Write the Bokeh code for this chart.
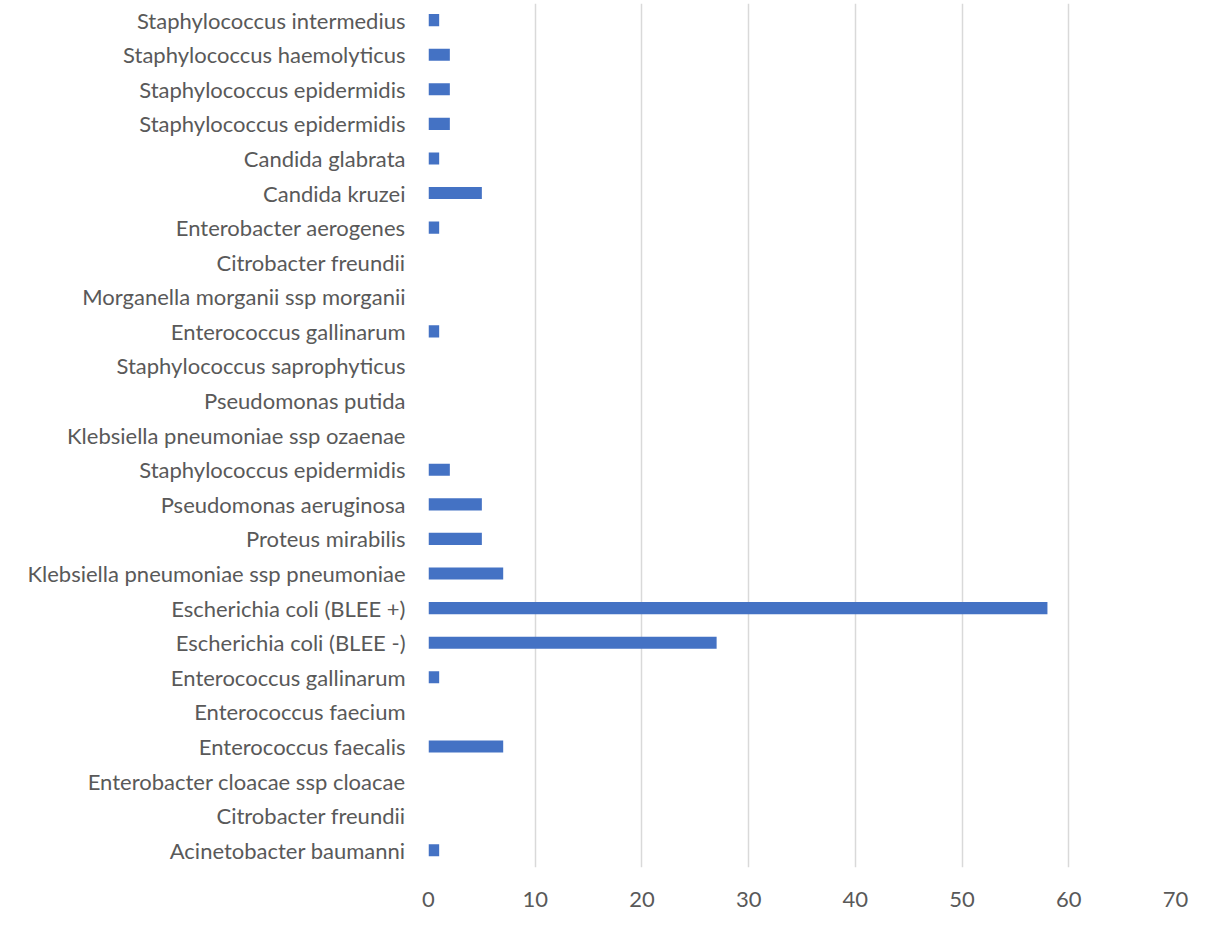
from bokeh.plotting import figure
from bokeh.models import FixedTicker, ColumnDataSource
from bokeh.embed import file_html
from bokeh.resources import INLINE

# categories listed bottom to top
categories = [
    "Acinetobacter baumanni",
    "Citrobacter freundii",
    "Enterobacter cloacae ssp cloacae",
    "Enterococcus faecalis",
    "Enterococcus faecium",
    "Enterococcus gallinarum",
    "Escherichia coli (BLEE -)",
    "Escherichia coli (BLEE +)",
    "Klebsiella pneumoniae ssp pneumoniae",
    "Proteus mirabilis",
    "Pseudomonas aeruginosa",
    "Staphylococcus epidermidis",
    "Klebsiella pneumoniae ssp ozaenae",
    "Pseudomonas putida",
    "Staphylococcus saprophyticus",
    "Enterococcus gallinarum",
    "Morganella morganii ssp morganii",
    "Citrobacter freundii",
    "Enterobacter aerogenes",
    "Candida kruzei",
    "Candida glabrata",
    "Staphylococcus epidermidis",
    "Staphylococcus epidermidis",
    "Staphylococcus haemolyticus",
    "Staphylococcus intermedius",
]
values = [1, 0, 0, 7, 0, 1, 27, 58, 7, 5, 5, 2, 0, 0, 0, 1, 0, 0, 1, 5, 1, 2, 2, 2, 1]
x_ticks = [0, 10, 20, 30, 40, 50, 60, 70]

positions = list(range(1, len(categories) + 1))
src = ColumnDataSource(data=dict(y=positions, v=values))

FONT = "Lato"
FS = "22px"

p = figure(width=1199, height=912, output_backend="svg", toolbar_location=None,
           x_range=(0, 70), y_range=(0.5, 25.48),
           min_border_left=428, min_border_right=24, min_border_top=3, min_border_bottom=45)
p.outline_line_color = None
p.background_fill_color = "white"
p.border_fill_color = "white"

p.hbar(y="y", right="v", left=0, height=0.35, source=src,
       fill_color="#4472C4", line_color=None)

p.ygrid.grid_line_color = None
p.xgrid.grid_line_color = "#d9d9d9"
p.xgrid.grid_line_width = 1.5
p.xgrid.ticker = FixedTicker(ticks=x_ticks)

p.xaxis.ticker = FixedTicker(ticks=x_ticks)
p.xaxis.axis_line_color = None
p.xaxis.major_tick_line_color = None
p.xaxis.minor_tick_line_color = None
p.xaxis.major_tick_out = 0
p.xaxis.major_label_standoff = 24
p.xaxis.major_label_text_font = FONT
p.xaxis.major_label_text_font_size = FS
p.xaxis.major_label_text_color = "#595959"

p.yaxis.ticker = FixedTicker(ticks=positions)
p.yaxis.major_label_overrides = {i: c for i, c in zip(positions, categories)}
p.yaxis.axis_line_color = None
p.yaxis.major_tick_line_color = None
p.yaxis.minor_tick_line_color = None
p.yaxis.major_tick_out = 0
p.yaxis.major_label_standoff = 23
p.yaxis.major_label_text_font = FONT
p.yaxis.major_label_text_font_size = FS
p.yaxis.major_label_text_color = "#595959"

open("out.html", "w").write(file_html(p, INLINE))
